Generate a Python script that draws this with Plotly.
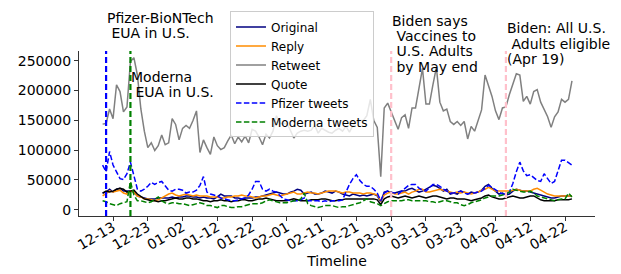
import pandas as pd
import plotly.graph_objects as go

dates = pd.date_range("2020-12-10", periods=136, freq="D")

original = [28000,29700,34500,29700,34500,36100,31300,31300,31300,29700,
            23200,21600,19900,18300,18300,18300,19900,19900,19900,19900,
            21600,19900,21600,21600,23200,23200,21600,21600,19900,21600,
            19900,19900,18300,21600,26400,23200,23200,23200,19900,19900,
            18300,19900,19900,19900,21600,21600,23200,24800,26400,28000,
            29700,28000,26400,26400,29700,31300,34500,32900,26400,28000,
            29700,26400,26400,28000,31300,29700,28000,31300,29700,26400,
            24800,23200,26400,24800,23200,24800,23200,24800,26400,23200,
            13500,29700,31300,28000,28000,29700,31300,31300,34500,36100,
            32900,29700,31300,34500,37800,41000,39400,36100,31300,34500,
            26400,28000,26400,31300,29700,26400,29700,28000,29700,32900,
            39400,42600,36100,31300,26400,28000,24800,26400,31300,34500,
            32900,31300,31300,29700,28000,26400,24800,23200,21600,19900,
            19900,21600,23200,23200,23200,23200]

reply = [23200,28000,31300,29700,31300,32900,28000,26400,31300,29700,
         23200,21600,18300,18300,16700,15100,16700,19900,23200,26400,
         28000,24800,23200,24800,26400,24800,23200,24800,23200,23200,
         23200,21600,21600,21600,19900,19900,21600,21600,23200,23200,
         24800,23200,23200,21600,19900,21600,23200,23200,24800,26400,
         24800,23200,24800,26400,28000,29700,26400,26400,28000,29700,
         28000,28000,26400,28000,29700,31300,31300,31300,29700,28000,
         29700,29700,28000,28000,28000,26400,28000,28000,26400,24800,
         15100,24800,28000,29700,26400,26400,28000,29700,26400,29700,
         31300,34500,34500,29700,29700,31300,32900,34500,32900,31300,
         29700,28000,29700,28000,29700,28000,26400,28000,29700,32900,
         34500,37800,34500,31300,31300,31300,31300,31300,32900,34500,
         32900,31300,31300,31300,34500,36100,32900,29700,26400,24800,
         23200,23200,23200,23200,23200,23200]

retweet = [143600,144700,169000,152800,209600,198200,164200,172300,248400,255000,
           226000,169000,131800,104200,112300,99400,107500,125300,109100,112300,
           152800,143100,117200,136600,141500,136600,149600,165800,96100,117200,
           104200,92900,122000,107500,101000,104200,115500,125300,110700,122000,
           113900,123700,112300,135000,131800,122000,109100,126900,120400,131800,
           157700,144700,144700,144700,133400,120400,128500,131800,133400,131800,
           133400,141500,128500,136600,133400,130100,128500,133400,136600,131800,
           139900,130100,141500,148000,149600,149600,157700,185100,149600,138200,
           55600,170700,178800,164200,149600,135000,154500,159300,136600,170700,
           170700,201400,237100,177200,177200,209600,238700,180400,165800,168900,
           148000,143100,148000,141500,148000,118800,139900,131800,148000,167400,
           226000,209600,190100,165800,151200,170700,172300,193300,209600,228000,
           225700,181900,190100,177200,198200,201400,180400,167400,156000,138200,
           156000,164200,185100,180400,185100,216000]

quote = [28000,31300,29700,31300,34500,36100,34500,29700,31300,32900,
         26400,21600,18300,16700,15100,15100,13500,15100,15100,16700,
         18300,19900,18300,18300,19900,19900,18300,18300,16700,15100,
         15100,13500,15100,15100,16700,15100,15100,13500,15100,15100,
         16700,16700,15100,15100,16700,18300,18300,19900,18300,16700,
         15100,15100,15100,15100,16700,18300,16700,15100,15100,15100,
         16700,16700,16700,18300,18300,16700,15100,15100,16700,16700,
         18300,18300,18300,18300,18300,18300,18300,18300,18300,16700,
         8600,18300,21600,23200,21600,19900,21600,23200,21600,19900,
         21600,23200,21600,19900,21600,23200,23200,21600,19900,18300,
         19900,19900,18300,18300,18300,16700,15100,16700,18300,19900,
         23200,24800,21600,19900,18300,18300,19900,21600,23200,21600,
         19900,19900,21600,23200,23200,19900,16700,15100,15100,15100,
         15100,16700,16700,16700,16700,18300]

pfizer = [75000,63700,97700,75000,63700,52300,50700,60500,79900,57200,
          34500,31300,34500,39400,45900,42600,45900,47500,39400,32900,
          31300,34500,34500,32900,28000,29700,29700,32900,41000,55600,
          29700,26400,24800,23200,19900,18300,16700,15100,15100,16700,
          18300,19900,24800,34500,47500,47500,34500,31300,34500,31300,
          29700,23200,18300,16700,15100,15100,15100,16700,19900,15100,
          15100,15100,15100,13500,15100,13500,15100,15100,15100,16700,
          29700,42600,52300,58800,49100,42600,39400,39400,34500,28000,
          15100,28000,31300,29700,28000,26400,31300,36100,41000,42600,
          42600,36100,32900,31300,37700,42600,42600,39400,34500,31300,
          28000,28000,29700,31300,28000,26400,28000,28000,29700,31300,
          36100,41000,37700,32900,29700,26400,26400,29700,44200,63700,
          79900,65300,57200,58800,53900,49100,47500,60500,52300,44200,
          47500,63700,83100,83100,78300,75000]

moderna = [15100,13500,10200,8600,7000,10200,11800,13500,47500,24800,
           15100,15100,13500,11800,13500,18300,21600,15100,11800,10200,
           11800,11800,10200,10200,8600,7000,8600,10200,11800,10200,
           7000,7000,5300,3700,7000,7000,5300,3700,3700,5300,
           5300,7000,8600,10200,10200,10200,11800,15100,16700,15100,
           13500,11800,11800,11800,13500,15100,15100,18300,28000,10200,
           7000,5300,3700,5300,7000,7000,7000,5300,3700,5300,
           5300,7000,8600,10200,11800,15100,18300,13500,11800,10200,
           7000,10200,13500,15100,15100,15100,15100,16700,16700,15100,
           15100,15100,15100,15100,13500,13500,11800,13500,15100,15100,
           13500,11800,11800,8600,7000,8600,11800,13500,15100,16700,
           19900,21600,23200,23200,23200,24800,26400,29700,34500,32900,
           31300,29700,29700,31300,28000,23200,21600,19900,18300,16700,
           15100,16700,18300,18300,28000,21600]

tick_dates = ["2020-12-13","2020-12-23","2021-01-02","2021-01-12","2021-01-22",
              "2021-02-01","2021-02-11","2021-02-21","2021-03-03","2021-03-13",
              "2021-03-23","2021-04-02","2021-04-12","2021-04-22"]
tick_labels = ["12-13","12-23","01-02","01-12","01-22","02-01","02-11",
               "02-21","03-03","03-13","03-23","04-02","04-12","04-22"]
y_ticks = [0, 50000, 100000, 150000, 200000, 250000]

events = [("2020-12-11", "blue"), ("2020-12-18", "green"),
          ("2021-03-03", "pink"), ("2021-04-05", "pink")]

FONT = "DejaVu Sans"
fig = go.Figure()
series = [("Original", original, "#000080", "solid"),
          ("Reply", reply, "#ff8c00", "solid"),
          ("Retweet", retweet, "#808080", "solid"),
          ("Quote", quote, "#000000", "solid"),
          ("Pfizer tweets", pfizer, "#0000ff", "5.5px,2.4px"),
          ("Moderna tweets", moderna, "#008000", "5.5px,2.4px")]
for name, vals, col, dash in series:
    fig.add_trace(go.Scatter(x=dates, y=vals, mode="lines", name=name,
                             line=dict(color=col, width=1.5, dash=dash)))

for d, col in events:
    fig.add_shape(type="line", xref="x", yref="paper", x0=d, x1=d, y0=0, y1=1,
                  line=dict(color=col, width=2.2, dash="6px,3px"), layer="above")

ann = [
    ("2020-12-11", 1.203, "Pfizer-BioNTech"),
    ("2020-12-11", 1.111, "\u00a0EUA in U.S."),
    ("2020-12-18", 0.842, "Moderna"),
    ("2020-12-18", 0.750, "\u00a0EUA in U.S."),
    ("2021-03-03", 1.181, "Biden says"),
    ("2021-03-03", 1.089, "\u00a0Vaccines to"),
    ("2021-03-03", 0.997, "\u00a0U.S. Adults"),
    ("2021-03-03", 0.905, "\u00a0by May end"),
    ("2021-04-05", 1.137, "Biden: All U.S."),
    ("2021-04-05", 1.045, "\u00a0Adults eligible"),
    ("2021-04-05", 0.953, "(Apr 19)"),
]
for x, y, t in ann:
    fig.add_annotation(x=x, y=y, xref="x", yref="paper", text=t, showarrow=False,
                       xanchor="left", yanchor="middle", borderpad=0,
                       font=dict(family=FONT, size=14, color="black"))

fig.update_layout(
    width=621, height=274,
    margin=dict(l=79, r=26, t=45, b=58),
    plot_bgcolor="white", paper_bgcolor="white",
    font=dict(family=FONT, size=14, color="black"),
    legend=dict(x=0.2926, y=1.24, xanchor="left", yanchor="top",
                bgcolor="rgba(255,255,255,0.8)", bordercolor="#cccccc",
                borderwidth=1, font=dict(family=FONT, size=12, color="black")),
    xaxis=dict(type="date", range=["2020-12-03 05:00", "2021-04-30 15:00"],
               tickvals=tick_dates, ticktext=tick_labels, tickangle=-30,
               showline=True, linecolor="#333333", linewidth=1,
               ticks="outside", ticklen=4, tickcolor="#333333",
               ticklabelstandoff=-7,
               showgrid=False, zeroline=False, automargin=False,
               title=dict(text="Timeline", standoff=0,
                          font=dict(family=FONT, size=14))),
    yaxis=dict(range=[-10400, 266200], tickvals=y_ticks, tickformat="d",
               showline=True, linecolor="#333333", linewidth=1,
               ticks="outside", ticklen=4, tickcolor="#333333",
               showgrid=False, zeroline=False, automargin=False),
)

fig.write_html("out.html", config={"displayModeBar": False},
               post_script="document.body.style.margin='0';")
